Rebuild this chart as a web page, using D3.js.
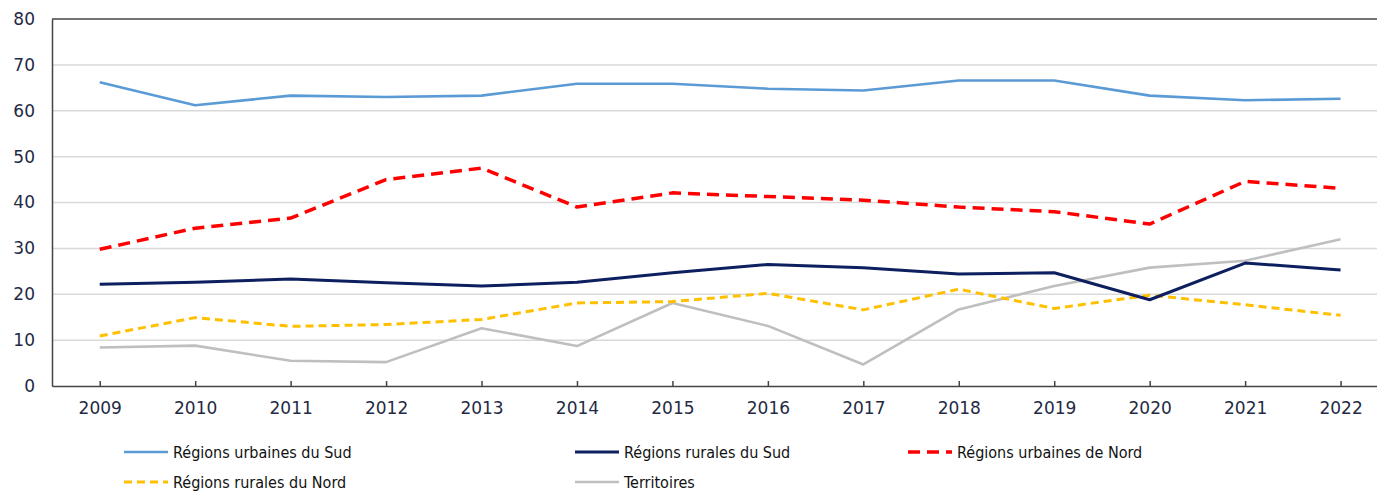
<!DOCTYPE html>
<html><head><meta charset="utf-8">
<script src="https://cdn.jsdelivr.net/npm/d3@7"></script>
<style>body{margin:0;background:#fff;}svg{display:block;font-family:"DejaVu Sans",Verdana,sans-serif;}</style>
</head><body><svg id="c" width="1377" height="491"></svg>
<script>
const years = ["2009","2010","2011","2012","2013","2014","2015","2016","2017","2018","2019","2020","2021","2022"];
const urbainSud = [66.2,61.2,63.3,63.0,63.3,65.9,65.9,64.8,64.4,66.6,66.6,63.3,62.3,62.6];
const ruralSud = [22.2,22.6,23.3,22.5,21.8,22.6,24.7,26.5,25.8,24.4,24.7,18.8,26.8,25.3];
const urbainNord = [29.8,34.4,36.6,45.0,47.5,39.0,42.1,41.3,40.5,39.0,38.0,35.3,44.6,43.1];
const ruralNord = [10.9,14.9,13.0,13.4,14.5,18.1,18.4,20.2,16.6,21.1,16.9,19.8,17.7,15.4];
const territoires = [8.4,8.8,5.5,5.2,12.6,8.7,18.1,13.1,4.7,16.7,21.8,25.8,27.3,32.0];
const yTicks = [0,10,20,30,40,50,60,70,80];
const seriesNames = ["Régions urbaines du Sud","Régions rurales du Sud","Régions urbaines de Nord","Régions rurales du Nord","Territoires"];

(function(){
const series = [
  {name: seriesNames[0], values: urbainSud, color:"#5b9bd5", width:2.6, dash:null},
  {name: seriesNames[1], values: ruralSud, color:"#0d1f5e", width:3, dash:null},
  {name: seriesNames[2], values: urbainNord, color:"#ff0000", width:3.5, dash:"12,7"},
  {name: seriesNames[3], values: ruralNord, color:"#ffc000", width:3, dash:"8,5"},
  {name: seriesNames[4], values: territoires, color:"#bfbfbf", width:2.6, dash:null}
];

const svg = d3.select("#c");
const mLeft = 52, mTop = 19, mBottom = 386, mRight = 52 + 14*95.45;
const x = d3.scalePoint().domain(years).range([mLeft, mRight]).padding(0.5);
const y = d3.scaleLinear().domain([0,80]).range([mBottom, mTop]);
const textColor = "#1f2a44";

svg.append("g").selectAll("line").data(yTicks.filter(d=>d>0 && d<80)).join("line")
  .attr("x1", mLeft).attr("x2", mRight).attr("y1", d=>y(d)).attr("y2", d=>y(d))
  .attr("stroke", "#d9d9d9").attr("stroke-width", 1.5);

svg.append("line").attr("x1", mLeft).attr("x2", mRight).attr("y1", mTop).attr("y2", mTop)
  .attr("stroke", "#444").attr("stroke-width", 1.5);

const ya = svg.append("g").attr("transform", `translate(${mLeft},0)`)
  .call(d3.axisLeft(y).tickValues(yTicks).tickSize(0).tickPadding(17));
ya.select(".domain").attr("stroke", "#444").attr("stroke-width", 1.5);
ya.selectAll("text").attr("font-size", 17).attr("fill", textColor).attr("font-family", '"DejaVu Sans",Verdana,sans-serif');

const xa = svg.append("g").attr("transform", `translate(0,${mBottom})`)
  .call(d3.axisBottom(x).tickSize(-5).tickPadding(16).tickSizeOuter(0));
xa.select(".domain").attr("stroke", "#444").attr("stroke-width", 1.5);
xa.selectAll(".tick line").attr("stroke", "#444").attr("stroke-width", 1.5);
xa.selectAll("text").attr("font-size", 17).attr("fill", textColor).attr("font-family", '"DejaVu Sans",Verdana,sans-serif');

const line = d3.line().x((d,i)=>x(years[i])).y(d=>y(d));
const drawOrder = [4,3,1,2,0];
svg.append("g").selectAll("path").data(drawOrder.map(i=>series[i])).join("path")
  .attr("d", d=>line(d.values)).attr("fill","none")
  .attr("stroke", d=>d.color).attr("stroke-width", d=>d.width)
  .attr("stroke-dasharray", d=>d.dash).attr("stroke-linejoin","round");

const legPos = [[124,452],[575,452],[908,452],[124,482],[575,482]];
const lg = svg.append("g").selectAll("g").data(series).join("g")
  .attr("transform", (d,i)=>`translate(${legPos[i][0]},${legPos[i][1]})`);
lg.append("line").attr("x1",0).attr("x2",44).attr("y1",0).attr("y2",0)
  .attr("stroke", d=>d.color).attr("stroke-width", d=>d.width)
  .attr("stroke-dasharray", d=>d.dash);
lg.append("text").attr("x",49).attr("y",0).attr("dy","0.35em")
  .attr("font-size",16).attr("fill","#111")
  .attr("font-family",'"DejaVu Sans Condensed","DejaVu Sans",sans-serif')
  .text(d=>d.name);
})();
</script></body></html>
